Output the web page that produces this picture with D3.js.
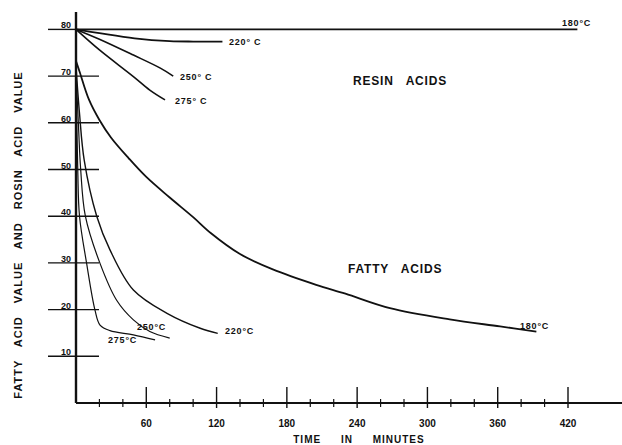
<!DOCTYPE html>
<html>
<head>
<meta charset="utf-8">
<script src="https://cdn.jsdelivr.net/npm/d3@7"></script>
<style>
  body { margin: 0; background: #fff; }
  text { font-family: "Liberation Sans", Arial, sans-serif; font-weight: bold; fill: #111; }
</style>
</head>
<body>
<div id="chart"></div>
<script>
// time in minutes, acid value
var resin180 = [[0, 80], [428, 80]];
var resin220 = [[0, 80], [20, 79.2], [50, 78.1], [80, 77.5], [100, 77.4], [125, 77.4]];
var resin250 = [[0, 80], [20, 77.9], [49, 74.5], [72, 71.7], [83, 70.0]];
var resin275 = [[0, 80], [20, 75.6], [49, 69.9], [63, 67.0], [76, 64.9]];

var fatty180 = [[0, 73.2], [3, 71], [11, 65], [20, 60.6], [30, 56.8], [45, 52.4], [60, 48.4],
    [80, 44], [100, 39.8], [115, 36.4], [140, 31.9], [168, 28.6], [205, 25.3], [230, 23.4],
    [268, 20.3], [319, 17.9], [362, 16.4], [393, 15.3]];
var fatty220 = [[0, 72], [3, 62], [7, 52], [17.7, 40], [29, 32.8], [49, 24.2], [77.7, 19.2],
    [106, 16.0], [121, 14.9]];
var fatty250 = [[0, 71], [2, 60], [4, 50], [8, 40], [20.5, 29.9], [34.7, 22], [49, 17.8],
    [63, 15.3], [80, 13.9]];
var fatty275 = [[0, 70], [1.5, 50], [3, 40], [9, 30], [16.2, 19.9], [20.5, 16.7], [29, 15.5],
    [49, 14.6], [67.5, 13.5]];

var xMajor = [60, 120, 180, 240, 300, 360, 420];
var xMinor = [20, 40, 80, 100, 140, 160, 200, 220, 260, 280, 320, 340, 380, 400];
var yTicks = [10, 20, 30, 40, 50, 60, 70, 80];

var width = 622, height = 445;
var svg = d3.select("#chart").append("svg")
    .attr("width", width)
    .attr("height", height);

var x = d3.scaleLinear().domain([0, 420]).range([76, 568]);
var y = d3.scaleLinear().domain([0, 80]).range([403, 29.4]);

// axes
svg.append("line")
    .attr("x1", x(0)).attr("x2", 622)
    .attr("y1", y(0)).attr("y2", y(0))
    .attr("stroke", "#111").attr("stroke-width", 2.2);
svg.append("line")
    .attr("x1", x(0)).attr("x2", x(0))
    .attr("y1", 12).attr("y2", y(0))
    .attr("stroke", "#111").attr("stroke-width", 2.4);

// x ticks
svg.selectAll(".xmaj").data(xMajor).enter().append("line")
    .attr("x1", function (d) { return x(d); })
    .attr("x2", function (d) { return x(d); })
    .attr("y1", y(0) - 16).attr("y2", y(0) + 5)
    .attr("stroke", "#111").attr("stroke-width", 1.4);
svg.selectAll(".xmin").data(xMinor).enter().append("line")
    .attr("x1", function (d) { return x(d); })
    .attr("x2", function (d) { return x(d); })
    .attr("y1", y(0) - 4).attr("y2", y(0) + 4)
    .attr("stroke", "#111").attr("stroke-width", 1.2);
svg.selectAll(".xlab").data(xMajor).enter().append("text")
    .attr("x", function (d) { return x(d); })
    .attr("y", y(0) + 24)
    .attr("text-anchor", "middle")
    .style("font-size", "10px")
    .text(function (d) { return d; });

// y ticks
svg.selectAll(".ytick").data(yTicks).enter().append("line")
    .attr("x1", 48).attr("x2", function (d) { return d == 80 ? x(0) : 99; })
    .attr("y1", function (d) { return y(d); })
    .attr("y2", function (d) { return y(d); })
    .attr("stroke", "#111").attr("stroke-width", 1.4);
svg.selectAll(".ylab").data(yTicks).enter().append("text")
    .attr("x", 71)
    .attr("y", function (d) { return y(d) - 1; })
    .attr("text-anchor", "end")
    .style("font-size", "9px")
    .text(function (d) { return d; });

// axis titles
svg.append("text")
    .attr("x", 359).attr("y", 443)
    .attr("text-anchor", "middle")
    .style("font-size", "10px")
    .style("letter-spacing", "1px")
    .style("word-spacing", "16px")
    .text("TIME IN MINUTES");
svg.append("text")
    .attr("transform", "translate(22,235) rotate(-90)")
    .attr("text-anchor", "middle")
    .style("font-size", "11px")
    .style("letter-spacing", "1px")
    .style("word-spacing", "9px")
    .text("FATTY ACID VALUE AND ROSIN ACID VALUE");

// curves
var line = d3.line()
    .x(function (d) { return x(d[0]); })
    .y(function (d) { return y(d[1]); })
    .curve(d3.curveCatmullRom.alpha(0.5));

var series = [
    { data: resin180, w: 1.8 }, { data: resin220, w: 1.8 },
    { data: resin250, w: 1.6 }, { data: resin275, w: 1.6 },
    { data: fatty180, w: 1.8 }, { data: fatty220, w: 1.4 },
    { data: fatty250, w: 1.2 }, { data: fatty275, w: 1.2 }
];
svg.selectAll(".curve").data(series).enter().append("path")
    .attr("d", function (d) { return line(d.data); })
    .attr("fill", "none")
    .attr("stroke", "#111")
    .attr("stroke-width", function (d) { return d.w; });

// curve labels
var labels = [
    { t: "180°C", x: 562, y: 26 },
    { t: "220° C", x: 229, y: 45 },
    { t: "250° C", x: 180, y: 80 },
    { t: "275° C", x: 175, y: 104 },
    { t: "RESIN   ACIDS", x: 353, y: 85, s: 12 },
    { t: "FATTY   ACIDS", x: 348, y: 273, s: 12 },
    { t: "180°C", x: 520, y: 329 },
    { t: "220°C", x: 225, y: 334 },
    { t: "250°C", x: 137, y: 330 },
    { t: "275°C", x: 108, y: 343 }
];
svg.selectAll(".clab").data(labels).enter().append("text")
    .attr("x", function (d) { return d.x; })
    .attr("y", function (d) { return d.y; })
    .attr("xml:space", "preserve")
    .style("white-space", "pre")
    .style("font-size", function (d) { return (d.s || 9) + "px"; })
    .style("letter-spacing", "0.8px")
    .text(function (d) { return d.t; });
</script>
</body>
</html>
